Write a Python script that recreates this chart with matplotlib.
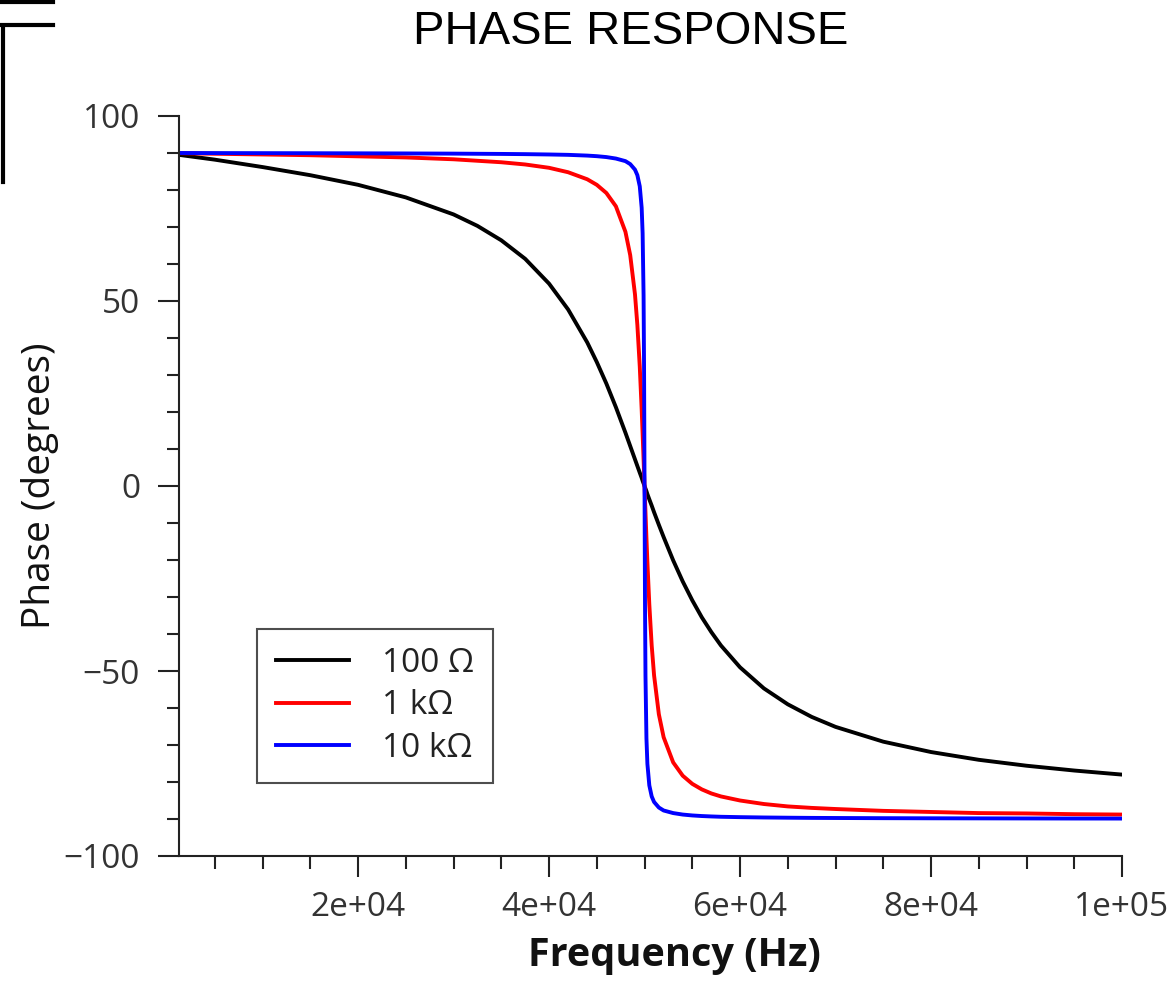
import numpy as np
import matplotlib.pyplot as plt
from matplotlib.lines import Line2D
from matplotlib.ticker import MultipleLocator, FuncFormatter

# frequency points (Hz) and phase (degrees)
freq = [1250, 5000, 10000, 15000, 20000, 25000, 30000,
        32500, 35000, 37500, 40000,
        42000, 44000, 45000, 46000, 47000, 48000, 48500,
        49000, 49250, 49500, 49700, 49800, 49900, 49950,
        50000,
        50050, 50100, 50200, 50300, 50500, 50750, 51000,
        51500, 52000, 53000, 54000, 55000, 56000, 57000, 58000,
        60000, 62500, 65000, 67500, 70000,
        75000, 80000, 85000, 90000, 95000, 100000]

phase_100 = [89.5, 88.2, 86.2, 84.0, 81.4, 78.0, 73.4,
             70.3, 66.4, 61.4, 54.7,
             47.7, 38.8, 33.5, 27.7, 21.3, 14.4, 10.8,
             7.2, 5.4, 3.6, 2.2, 1.4, 0.7, 0.4,
             0.0,
             -0.4, -0.7, -1.4, -2.2, -3.6, -5.3, -7.1,
             -10.5, -13.8, -20.1, -25.8, -30.9, -35.5, -39.5, -43.1,
             -49.0, -54.7, -59.0, -62.4, -65.1,
             -69.1, -71.9, -74.0, -75.6, -76.9, -78.0]

phase_1k = [89.95, 89.8, 89.6, 89.4, 89.1, 88.8, 88.3,
            87.9, 87.5, 86.9, 86.0,
            84.8, 82.9, 81.4, 79.2, 75.6, 68.7, 62.4,
            51.8, 43.5, 32.3, 20.7, 14.1, 7.2, 3.6,
            0.0,
            -3.6, -7.2, -14.1, -20.6, -32.0, -43.1, -51.2,
            -61.7, -67.9, -74.7, -78.3, -80.5, -82.0, -83.1, -83.9,
            -85.0, -85.95, -86.6, -87.0, -87.3,
            -87.8, -88.1, -88.4, -88.5, -88.7, -88.8]

phase_10k = [90.0, 89.98, 89.96, 89.94, 89.91, 89.88, 89.83,
             89.79, 89.75, 89.69, 89.6,
             89.5, 89.3, 89.14, 88.9, 88.5, 87.8, 87.0,
             85.5, 84.0, 81.0, 75.2, 68.3, 51.5, 32.1,
             0.0,
             -32.1, -51.4, -68.2, -75.1, -80.9, -83.9, -85.4,
             -86.9, -87.7, -88.4, -88.8, -89.04, -89.2, -89.31, -89.4,
             -89.5, -89.59, -89.65, -89.70, -89.73,
             -89.78, -89.81, -89.83, -89.85, -89.87, -89.88]

labels = ["100 Ω", "1 kΩ", "10 kΩ"]
colors = ["black", "red", "blue"]

tick_font = ["Open Sans", "DejaVu Sans"]

fig = plt.figure(figsize=(11.76, 9.84), dpi=100)
ax = fig.add_axes([179 / 1176, 128 / 984, 943 / 1176, 740 / 984])

for ys, lab, c in zip([phase_100, phase_1k, phase_10k], labels, colors):
    ax.plot(freq, ys, color=c, lw=2.8, label=lab)

ax.set_xlim(1250, 100000)
ax.set_ylim(-100, 100)

ax.xaxis.set_major_locator(MultipleLocator(20000))
ax.xaxis.set_minor_locator(MultipleLocator(5000))
ax.xaxis.set_major_formatter(FuncFormatter(lambda v, p: f"{v:.0e}"))
ax.yaxis.set_major_locator(MultipleLocator(50))
ax.yaxis.set_minor_locator(MultipleLocator(10))

for s in ["top", "right"]:
    ax.spines[s].set_visible(False)
for s in ["left", "bottom"]:
    ax.spines[s].set_linewidth(1.5)
    ax.spines[s].set_color("#222222")

ax.tick_params(which="major", length=15, width=1.5, color="#222222",
               labelsize=24, labelcolor="#333333")
ax.tick_params(which="minor", length=9, width=1.5, color="#222222")
ax.tick_params(axis="x", which="major", pad=10)
ax.tick_params(axis="y", which="major", pad=13)
for t in ax.get_xticklabels() + ax.get_yticklabels():
    t.set_family(tick_font)

ax.set_xlabel("Frequency (Hz)", fontsize=28.5, fontweight="bold",
              family=tick_font, color="#111111")
ax.xaxis.set_label_coords(0.525, -0.108)
ax.set_ylabel("Phase (degrees)", fontsize=28, family=tick_font,
              color="#111111", labelpad=3)

leg = ax.legend(loc="upper left", bbox_to_anchor=(0.083, 0.307),
                prop={"family": tick_font, "size": 24}, frameon=True,
                fancybox=False, handlelength=2.2, handletextpad=1.0,
                labelspacing=0.28, borderpad=0.55, borderaxespad=0)
leg.get_frame().set_edgecolor("#222222")
leg.get_frame().set_linewidth(1.5)
for t in leg.get_texts():
    t.set_color("#222222")

fig.text(631 / 1176, 1 - 32 / 984, "PHASE RESPONSE", ha="center", va="center",
         fontsize=34, family="Liberation Sans", color="black")

# leftover fragment at the top-left corner of the original screenshot
fig.add_artist(Line2D([0, 53 / 1176], [1 - 2 / 984, 1 - 2 / 984],
                      transform=fig.transFigure, color="black", lw=3))
fig.add_artist(Line2D([0, 53 / 1176], [1 - 25 / 984, 1 - 25 / 984],
                      transform=fig.transFigure, color="black", lw=3))
fig.add_artist(Line2D([3 / 1176, 3 / 1176], [1 - 26 / 984, 1 - 182 / 984],
                      transform=fig.transFigure, color="black", lw=3))

fig.savefig("out.png", dpi=100)
